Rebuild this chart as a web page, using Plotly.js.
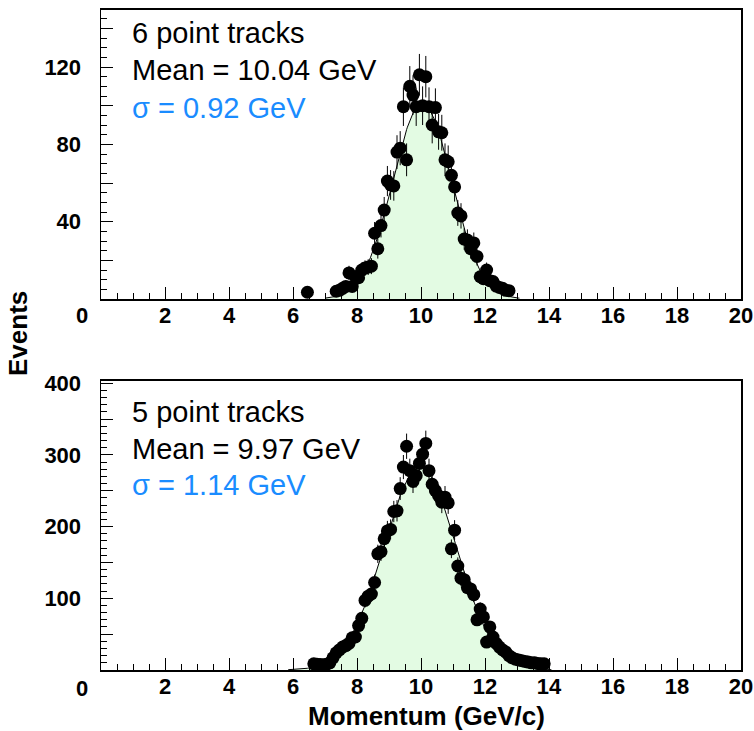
<!DOCTYPE html>
<html>
<head>
<meta charset="utf-8">
<script src="https://cdn.plot.ly/plotly-3.0.1.min.js"></script>
<style>
  html, body { margin: 0; padding: 0; background: #ffffff; }
  #chart { width: 754px; height: 731px; }
</style>
</head>
<body>
<div id="chart"></div>
<script>
// ---- 6 point tracks: momentum histogram (bin centres, counts per 0.1 GeV/c bin) ----
const binsSix = [6.45, 7.35, 7.45, 7.55, 7.65, 7.75, 7.85, 7.95, 8.05, 8.15, 8.25, 8.35, 8.45,
  8.55, 8.65, 8.75, 8.85, 8.95, 9.05, 9.15, 9.25, 9.35, 9.45, 9.55, 9.65, 9.75, 9.85, 9.95,
  10.05, 10.15, 10.25, 10.35, 10.45, 10.55, 10.65, 10.75, 10.85, 10.95, 11.05, 11.15, 11.25,
  11.35, 11.45, 11.55, 11.65, 11.75, 11.85, 11.95, 12.05, 12.15, 12.25, 12.35, 12.45, 12.55,
  12.65, 12.75];
const countsSix = [3.5, 4, 4.5, 5.5, 6.5, 13.5, 6.5, 11.5, 11, 15, 16, 16.5, 17,
  34, 26, 38, 46, 61, 59, 58.5, 76, 78, 99.5, 72, 110, 105.5, 99.5, 116,
  100, 115, 99.5, 90, 99, 86.5, 86, 72, 71, 64, 58, 44.5, 43,
  31, 30.5, 26, 29, 22, 11.5, 10.5, 15, 9.5, 9, 6.7, 6, 5.5,
  4.5, 4.3];

// ---- 5 point tracks ----
const binsFive = [6.65, 6.75, 6.85, 6.95, 7.05, 7.15, 7.25, 7.35, 7.45, 7.55, 7.65, 7.75,
  7.85, 7.95, 8.05, 8.15, 8.25, 8.35, 8.45, 8.55, 8.65, 8.75, 8.85, 8.95, 9.05, 9.15, 9.25,
  9.35, 9.45, 9.55, 9.65, 9.75, 9.85, 9.95, 10.05, 10.15, 10.25, 10.35, 10.45, 10.55, 10.65,
  10.75, 10.85, 10.95, 11.05, 11.15, 11.25, 11.35, 11.45, 11.55, 11.65, 11.75, 11.85, 11.95,
  12.05, 12.15, 12.25, 12.35, 12.45, 12.55, 12.65, 12.75, 12.85, 12.95, 13.05, 13.15, 13.25,
  13.35, 13.45, 13.55, 13.65, 13.75, 13.85];
const countsFive = [8.6, 8, 7.5, 7.2, 8, 10, 17, 24, 28, 32, 34, 37,
  45, 46, 62, 72, 97, 103, 106, 122, 162, 165, 183, 194, 196, 221, 222,
  253, 283, 312, 278, 263, 271, 288, 301, 316, 278, 259, 250, 243, 234,
  241, 233, 169, 195, 145, 128, 126, 115, 113, 105, 70, 85, 74,
  39, 60, 46, 37, 32, 28, 25, 20, 17, 15, 14, 13, 12,
  11, 10, 10, 9, 8.6, 8.6];

// ---- Gaussian fit results (mean, sigma as quoted; peak height of the fit) ----
const fitSix  = { mean: 10.04, sigma: 0.92, peak: 101 };
const fitFive = { mean: 9.97,  sigma: 1.14, peak: 282 };

// panel text
const labelsSix  = ["6 point tracks", "Mean = 10.04 GeV", "\u03c3 = 0.92 GeV"];
const labelsFive = ["5 point tracks", "Mean = 9.97 GeV",  "\u03c3 = 1.14 GeV"];

const xTickVals = [2, 4, 6, 8, 10, 12, 14, 16, 18, 20];
const yTickValsSix  = [20, 40, 60, 80, 100, 120, 140];
const yTickTextSix  = ["", "40", "", "80", "", "120", ""];
const yTickValsFive = [50, 100, 150, 200, 250, 300, 350, 400];
const yTickTextFive = ["", "100", "", "200", "", "300", "", "400"];

// fit curve sampled on a fine grid, kept to the region where it is visible
function gaussCurve(fit) {
  const xs = [], ys = [];
  for (let i = 0; i <= 800; i++) {
    const x = i * 0.025;
    const y = fit.peak * Math.exp(-0.5 * Math.pow((x - fit.mean) / fit.sigma, 2));
    if (y < 0.4) continue;
    xs.push(x);
    ys.push(y);
  }
  return { xs, ys };
}

const FONT = "Liberation Sans, Arial, Helvetica, sans-serif";
const FILL = "#e3fbe3";
const BLUE = "#1a8cff";

function fitTrace(fit, xa, ya) {
  const c = gaussCurve(fit);
  return {
    x: c.xs, y: c.ys, xaxis: xa, yaxis: ya, type: "scatter", mode: "lines",
    line: { color: "#000000", width: 1 }, fill: "tozeroy", fillcolor: FILL,
    hoverinfo: "skip", showlegend: false
  };
}
function dataTrace(xs, ys, xa, ya) {
  return {
    x: xs, y: ys, xaxis: xa, yaxis: ya, type: "scatter", mode: "markers",
    marker: { color: "#000000", size: 13 },
    error_y: { type: "sqrt", color: "#000000", thickness: 1, width: 0 },
    showlegend: false
  };
}

const traces = [
  fitTrace(fitSix, "x", "y"),
  dataTrace(binsSix, countsSix, "x", "y"),
  fitTrace(fitFive, "x2", "y2"),
  dataTrace(binsFive, countsFive, "x2", "y2")
];

// page geometry helpers (pixel -> paper)
const W = 754, H = 731, ML = 101, MR = 13, MT = 10, MB = 61;
const PW = W - ML - MR, PH = H - MT - MB;
const px = v => (v - ML) / PW;
const py = v => (H - MB - v) / PH;

const tickFont = { family: FONT, size: 22, color: "#000000", weight: "bold" };

function xAxis(anchor) {
  return {
    anchor: anchor, range: [0, 20], tickmode: "array", tickvals: xTickVals,
    ticks: "inside", ticklen: 12, tickwidth: 1, tickcolor: "#000000",
    minor: { dtick: 0.5, tick0: 0, ticks: "inside", ticklen: 6, tickwidth: 1, tickcolor: "#000000" },
    showline: true, linecolor: "#000000", linewidth: 2, mirror: true,
    showgrid: false, zeroline: false, ticklabelstandoff: -4,
    tickfont: tickFont
  };
}
function yAxis(anchor, domain, range, vals, text, minorStep) {
  return {
    anchor: anchor, domain: domain, range: range, tickmode: "array",
    tickvals: vals, ticktext: text,
    ticks: "inside", ticklen: 12, tickwidth: 1, tickcolor: "#000000",
    minor: { dtick: minorStep, tick0: 0, ticks: "inside", ticklen: 6, tickwidth: 1, tickcolor: "#000000" },
    showline: true, linecolor: "#000000", linewidth: 1.5, mirror: true,
    showgrid: false, zeroline: false, ticklabelstandoff: 14,
    tickfont: tickFont
  };
}

function panelText(lines, baselines) {
  const colors = ["#000000", "#000000", BLUE];
  return lines.map((t, i) => ({
    text: t, xref: "paper", yref: "paper", x: px(130), y: py(baselines[i] - 10),
    xanchor: "left", yanchor: "middle", showarrow: false,
    font: { family: FONT, size: 29, color: colors[i] }
  }));
}

const annotations = [].concat(
  panelText(labelsSix, [43, 80, 118]),
  panelText(labelsFive, [422, 459, 495]),
  [
    { text: "0", xref: "paper", yref: "paper", x: px(82), y: py(315), xanchor: "center", yanchor: "middle",
      showarrow: false, font: tickFont },
    { text: "0", xref: "paper", yref: "paper", x: px(82), y: py(688), xanchor: "center", yanchor: "middle",
      showarrow: false, font: tickFont },
    { text: "Events", xref: "paper", yref: "paper", x: px(18), y: py(334), xanchor: "center", yanchor: "middle",
      textangle: -90, showarrow: false, font: { family: FONT, size: 26, color: "#000000", weight: "bold" } },
    { text: "Momentum (GeV/c)", xref: "paper", yref: "paper", x: px(426), y: py(716), xanchor: "center", yanchor: "middle",
      showarrow: false, font: { family: FONT, size: 26, color: "#000000", weight: "bold" } }
  ]
);

const layout = {
  width: W, height: H,
  margin: { l: ML, r: MR, t: MT, b: MB },
  paper_bgcolor: "#ffffff", plot_bgcolor: "#ffffff",
  showlegend: false,
  xaxis: xAxis("y"),
  yaxis: yAxis("x", [py(299), 1], [0, 149.5], yTickValsSix, yTickTextSix, 5),
  xaxis2: xAxis("y2"),
  yaxis2: yAxis("x2", [0, py(381)], [0, 403], yTickValsFive, yTickTextFive, 10),
  annotations: annotations
};

Plotly.newPlot("chart", traces, layout, { staticPlot: true, displayModeBar: false });
</script>
</body>
</html>
